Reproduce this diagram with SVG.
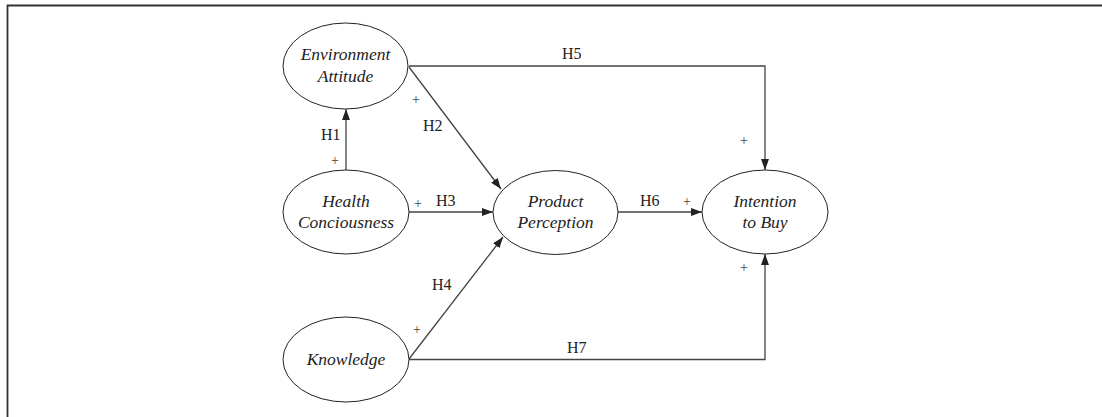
<svg xmlns="http://www.w3.org/2000/svg" width="1102" height="417" viewBox="0 0 1102 417">
<style>
.node ellipse{fill:#fff;stroke:#222;stroke-width:1}
.node text{font-family:"Liberation Serif","Times New Roman",serif;font-style:italic;font-size:17.5px;fill:#222;text-anchor:middle}
.conn{fill:none;stroke:#444;stroke-width:1.3}
.lbl{font-family:"Liberation Serif","Times New Roman",serif;font-size:16px;fill:#222}
.plus{font-family:"Liberation Serif","Times New Roman",serif;font-size:14px;fill:#444;text-anchor:middle}
.frame{fill:none;stroke:#333;stroke-width:1.8}
</style>
<defs>
<marker id="arr" markerUnits="userSpaceOnUse" markerWidth="11" markerHeight="8" refX="11" refY="4" orient="auto">
<path d="M0,0 L11,4 L0,8 z" fill="#222"/>
</marker>
</defs>
<rect width="1102" height="417" fill="#fff"/>
<path class="frame" d="M7.5,417 V5.5 H1102"/>
<g id="connectors">
<path class="conn" d="M346,170 V109" marker-end="url(#arr)"/>
<path class="conn" d="M409,67 L501,189" marker-end="url(#arr)"/>
<path class="conn" d="M409,66 H765 V170" marker-end="url(#arr)"/>
<path class="conn" d="M409,212 H493" marker-end="url(#arr)"/>
<path class="conn" d="M409,359 L503,237" marker-end="url(#arr)"/>
<path class="conn" d="M409,359.5 H765 V254" marker-end="url(#arr)"/>
<path class="conn" d="M618,212 H702" marker-end="url(#arr)"/>
<text class="lbl" x="321" y="140">H1</text>
<text class="plus" x="335" y="165">+</text>
<text class="plus" x="416" y="104">+</text>
<text class="lbl" x="423" y="131">H2</text>
<text class="lbl" x="562" y="59">H5</text>
<text class="plus" x="744" y="145">+</text>
<text class="plus" x="418" y="208">+</text>
<text class="lbl" x="436" y="206">H3</text>
<text class="lbl" x="640" y="206">H6</text>
<text class="plus" x="687" y="206">+</text>
<text class="lbl" x="432" y="290">H4</text>
<text class="plus" x="417" y="334">+</text>
<text class="lbl" x="567" y="353">H7</text>
<text class="plus" x="744" y="272">+</text>
</g>
<g id="env" class="node">
<ellipse cx="345.5" cy="66" rx="62.5" ry="43"/>
<text x="345.5" y="60">Environment</text>
<text x="345.5" y="82">Attitude</text>
</g>
<g id="health" class="node">
<ellipse cx="346" cy="212" rx="63" ry="42"/>
<text x="346" y="207">Health</text>
<text x="346" y="228">Conciousness</text>
</g>
<g id="product" class="node">
<ellipse cx="555.5" cy="212.5" rx="62.5" ry="42"/>
<text x="555.5" y="207">Product</text>
<text x="555.5" y="228">Perception</text>
</g>
<g id="intention" class="node">
<ellipse cx="765" cy="212" rx="63" ry="42"/>
<text x="765" y="207">Intention</text>
<text x="765" y="228">to Buy</text>
</g>
<g id="knowledge" class="node">
<ellipse cx="346" cy="359.5" rx="63" ry="42.5"/>
<text x="346" y="365">Knowledge</text>
</g>
</svg>
